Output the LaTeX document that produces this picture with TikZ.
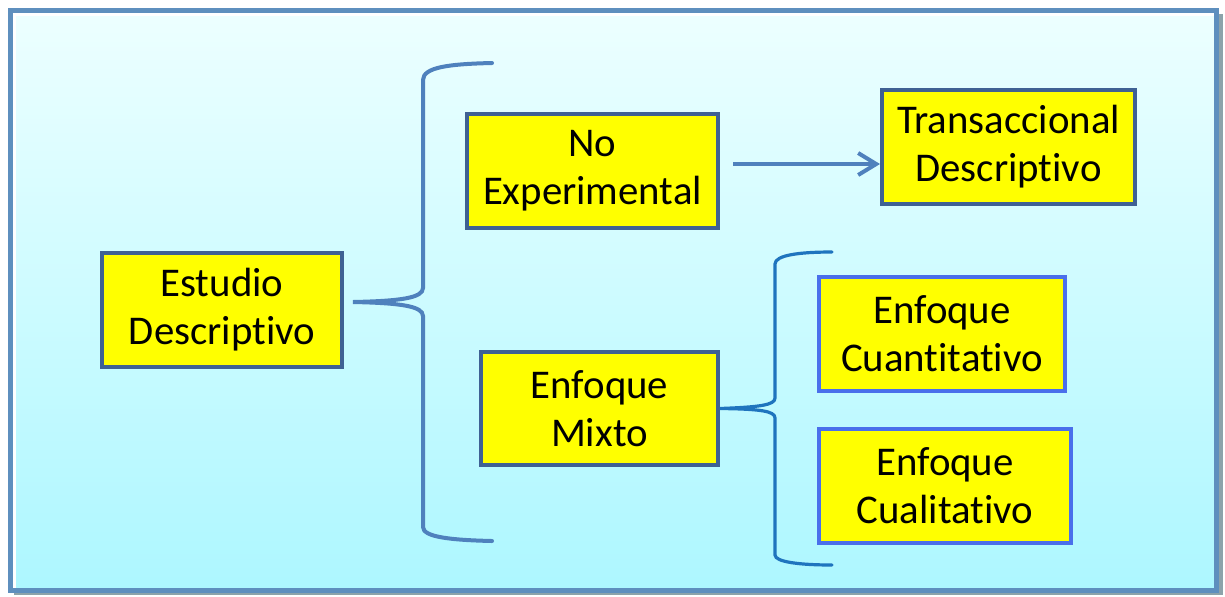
\documentclass[tikz,border=0pt]{standalone}
\usepackage{fontspec}
\setmainfont{Carlito}[RawFeature=-liga]
\usetikzlibrary{arrows.meta}
\definecolor{bgtop}{HTML}{EDFFFF}
\definecolor{bgbot}{HTML}{ADF7FF}
\definecolor{frameblue}{HTML}{5E8FBE}
\definecolor{frameshadow}{HTML}{3F6672}
\definecolor{boxedge}{HTML}{3F6193}
\definecolor{boxedgeb}{HTML}{4A6FEB}
\definecolor{bracecol}{HTML}{4F81BD}
\definecolor{bracecolb}{HTML}{1F74BE}
\definecolor{boxfill}{HTML}{FFFF00}
\tikzset{
  box/.style={draw=boxedge, line width=2pt, fill=boxfill, align=center, inner sep=0pt,
    font=\fontsize{20.4pt}{24pt}\selectfont},
  boxb/.style={box, draw=boxedgeb},
  bracebig/.style={draw=bracecol, line width=2pt, line cap=round},
  bracesmall/.style={draw=bracecolb, line width=1.6pt, line cap=round},
  arr/.style={draw=bracecol, line width=2pt, -{Straight Barb[length=9pt,width=11pt,line width=2pt]}},
}
\begin{document}
\begin{tikzpicture}[x=0.5pt,y=-0.5pt]
\useasboundingbox (0,0) rectangle (1225,596);
% frame
\fill[frameshadow!60] (14,14) rectangle (1223,595);
\shade[top color=bgtop, bottom color=bgbot] (10,10) rectangle (1216,590);
\draw[white, line width=2pt] (14,588) -- (14,14) -- (1214,14);
\draw[frameshadow, line width=1.5pt] (1217,11) -- (1217,591) -- (11,591);
\draw[frameblue, line width=2.5pt] (10,10) rectangle (1216,590);

% boxes
\node[box, minimum width=120pt, minimum height=57pt] (ED) at (222,310) {Estudio\\Descriptivo};
\node[box, minimum width=125.5pt, minimum height=57pt] (NE) at (592.5,171) {No\\Experimental};
\node[box, minimum width=126.5pt, minimum height=57pt] (TD) at (1008.5,147) {Transaccional\\Descriptivo};
\node[box, minimum width=118.5pt, minimum height=56.5pt] (EM) at (599.5,408.5) {Enfoque\\Mixto};
\node[boxb, minimum width=123pt, minimum height=57pt] (EC) at (942,334) {Enfoque\\Cuantitativo};
\node[boxb, minimum width=126pt, minimum height=57pt] (EQ) at (945,486) {Enfoque\\Cualitativo};

% big brace
\coordinate (b1) at (353,302);
\draw[bracebig] (492,63) .. controls (450,64) and (423,67) .. (423,80) -- (423,288)
  .. controls (423,298) and (400,301) .. (b1)
  .. controls (400,303) and (423,306) .. (423,316) -- (423,527)
  .. controls (423,537) and (450,540) .. (492,541);

% small brace
\coordinate (b2) at (EM.east);
\draw[bracesmall] (832,252) .. controls (800,252) and (775,255) .. (775,264) -- (775,398)
  .. controls (775,405) and (760,407) .. (b2)
  .. controls (760,409) and (775,411) .. (775,418) -- (775,555)
  .. controls (775,562) and (800,565) .. (832,565);

% arrow
\coordinate (a1) at (733,164);
\draw[arr] (a1) -- (a1 -| TD.west);
\end{tikzpicture}
\end{document}
